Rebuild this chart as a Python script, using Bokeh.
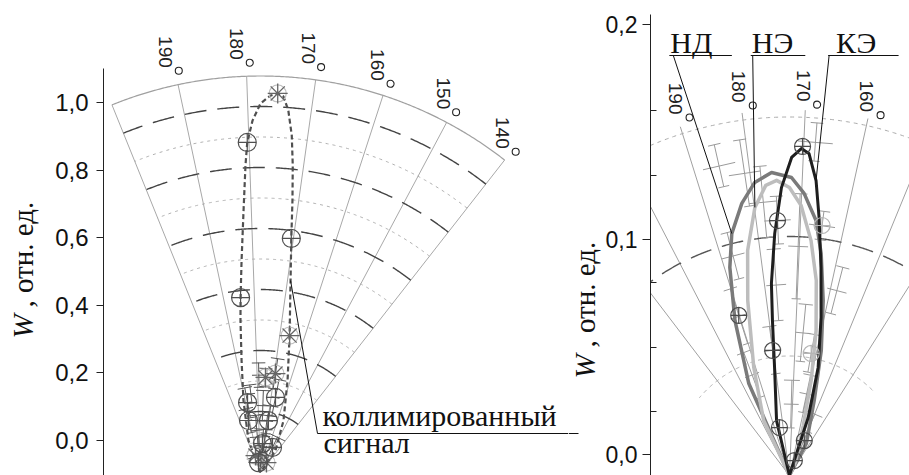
import numpy as np
from math import pi
from bokeh.plotting import figure
from bokeh.layouts import row
from bokeh.models import FixedTicker, CustomJSTickFormatter, Range1d
from bokeh.core.properties import value
from bokeh.embed import file_html
from bokeh.resources import INLINE

# ================= LEFT PANEL DATA (collimated signal) =================
left_grid_angles = [140, 150, 160, 170, 180, 190, 200]
left_label_angles = [190, 180, 170, 160, 150, 140]
left_label_text = ["190", "180", "170", "160", "150", "140"]
left_dashed_r = [0.2, 0.4, 0.6, 0.8, 1.0, 1.2]
left_dotted_r = [0.1, 0.3, 0.5, 0.7, 0.9, 1.1]
left_outer_r = 1.3
left_yticks = [0.0, 0.2, 0.4, 0.6, 0.8, 1.0]

coll_theta = [200.0, 198.6, 191.3, 187.6, 185.5, 184.5, 183.1, 181.7, 180.8, 180.3, 179.3,
              178.0, 176.5, 175.4, 174.5, 173.6, 172.7, 172.0, 171.3, 170.5, 169.1, 166.0,
              161.6, 154.1, 143.7, 140.0]
coll_r = [0.0, 0.112, 0.243, 0.372, 0.503, 0.577, 0.698, 0.861, 1.008, 1.083, 1.154,
          1.210, 1.236, 1.244, 1.235, 1.190, 1.110, 1.012, 0.898, 0.774, 0.637, 0.459,
          0.314, 0.186, 0.087, 0.0]

coll_circ_theta = [180.3, 184.5, 170.5, 188.5, 166.7, 191.0, 169.3, 174.1, 152.4, 189.3]
coll_circ_r = [1.083, 0.577, 0.774, 0.233, 0.251, 0.175, 0.172, 0.095, 0.091, 0.033]
coll_star_theta = [175.4, 166.0, 175.0, 169.4, 194.4, 147.0]
coll_star_r = [1.244, 0.459, 0.312, 0.328, 0.058, 0.038]

le_theta = [188.5, 166.7, 191.0, 169.3, 174.1, 152.4, 189.3, 175.0, 169.4, 179.0, 183.0, 171.0,
            178.0, 185.0, 176.0, 181.0, 165.0]
le_r = [0.233, 0.251, 0.175, 0.172, 0.095, 0.091, 0.033, 0.312, 0.328, 0.320, 0.140, 0.130,
        0.050, 0.260, 0.220, 0.080, 0.060]
le_dr = [0.05, 0.06, 0.04, 0.05, 0.05, 0.04, 0.03, 0.03, 0.05, 0.04, 0.05, 0.06, 0.04, 0.03,
         0.05, 0.04, 0.03]
le_dth = [3, 3, 4, 5, 6, 8, 15, 4, 3, 4, 8, 7, 20, 3, 5, 10, 12]

# ================= RIGHT PANEL DATA (НД, НЭ, КЭ) =================
right_grid_angles = [140, 150, 160, 170, 180, 190, 200, 210]
right_label_angles = [190, 180, 170, 160]
right_label_text = ["190", "180", "170", "160"]
right_dashed_r = [0.1]
right_dotted_r = [0.05, 0.15]
right_line_r = 0.153
right_yticks = [0.0, 0.1, 0.2]
right_minor = [0.02, 0.05, 0.08, 0.13, 0.16]

nd_theta = [205.0, 196.5, 192.0, 188.6, 186.0, 182.5, 179.3, 175.9, 172.1, 169.5, 166.5,
            164.3, 161.5, 158.1, 154.1, 144.5, 140.0]
nd_r = [0.0, 0.0421, 0.0688, 0.0906, 0.1041, 0.1156, 0.1235, 0.1270, 0.1247, 0.1182, 0.1073,
        0.0938, 0.0746, 0.0540, 0.0331, 0.0152, 0.0]
ne_theta = [205.0, 197.8, 190.9, 186.0, 183.1, 179.9, 177.2, 175.0, 172.5, 170.0, 167.2,
            164.6, 162.0, 159.5, 156.9, 147.7, 140.0]
ne_r = [0.0, 0.0254, 0.0476, 0.0753, 0.0958, 0.1131, 0.1218, 0.1236, 0.1205, 0.1131, 0.0987,
        0.0824, 0.0617, 0.0408, 0.0217, 0.0060, 0.0]
ke_theta = [200.0, 185.8, 180.4, 178.8, 177.9, 176.0, 174.1, 172.1, 170.4, 169.0, 167.3,
            165.9, 163.8, 161.1, 157.5, 154.4, 145.0]
ke_r = [0.0, 0.0236, 0.0456, 0.0652, 0.0807, 0.1015, 0.1205, 0.1331, 0.1369, 0.1350, 0.1239,
        0.1087, 0.0880, 0.0675, 0.0468, 0.0255, 0.0]

rm_theta = [170.2, 175.2, 190.2, 180.2, 184.3, 149.3, 154.1]
rm_r = [0.1378, 0.1068, 0.0703, 0.0528, 0.0205, 0.0159, 0.0066]
rm_light_theta = [165.0, 162.3]
rm_light_r = [0.1055, 0.0519]

re_theta = [185.4, 181.0, 170.3, 190.2, 175.2, 165.0, 162.3, 180.2, 168.0, 176.5, 158.0, 187.0,
            171.0, 160.5, 178.0, 150.0, 193.0, 167.0]
re_r = [0.133, 0.128, 0.096, 0.070, 0.107, 0.1055, 0.052, 0.053, 0.140, 0.080, 0.080, 0.095,
        0.030, 0.035, 0.115, 0.020, 0.045, 0.060]
re_dr = [0.009, 0.014, 0.022, 0.012, 0.010, 0.006, 0.008, 0.010, 0.008, 0.015, 0.010, 0.010,
         0.010, 0.008, 0.015, 0.008, 0.010, 0.012]
re_dth = [3, 3, 2.5, 3, 3, 3, 4, 4, 3, 3, 3, 3, 6, 5, 3, 6, 4, 3]

# ================= geometry (layout) =================
PXL = 338.0
L_X0, L_X1 = (103 - 260) / PXL, (568 - 260) / PXL
L_Y0, L_Y1 = -(475 - 440) / PXL, 440 / PXL
L_APEX = -(472 - 440) / PXL
KL = 305 / PXL
VL = 178.0

PXR = 2150.0
R_X0, R_X1 = (648 - 788) / PXR, (909 - 788) / PXR
R_Y0, R_Y1 = -(475 - 454) / PXR, 454 / PXR
R_APEX = R_Y0
KR = 2390 / PXR
VR = 172.5

TXT_MID = 10  # px from text middle to alphabetic baseline (30px serif)

SERIF = "Liberation Serif"
SANS = "Liberation Sans"


def lx(px):
    return (px - 260) / PXL


def ly(py):
    return (440 - py) / PXL


def rx(px):
    return (px - 788) / PXR


def ry(py):
    return (454 - py) / PXR


def pol(theta, r, vert, k, y0):
    t = np.radians(vert - np.asarray(theta, dtype=float))
    rr = np.asarray(r, dtype=float) * k
    return rr * np.sin(t), y0 + rr * np.cos(t)


def err_segs(theta, r, dr, dth, vert, k, y0, pxs, cap_px):
    xs, ys = [], []
    for t, rr, d, a in zip(theta, r, dr, dth):
        lo = max(rr - d, 0.0)
        hi = rr + d
        cap = np.degrees(cap_px / (max(rr, 0.02) * pxs))
        segs = [([t, t], [lo, hi]), ([t - a, t + a], [rr, rr]),
                ([t - cap, t + cap], [lo, lo]), ([t - cap, t + cap], [hi, hi])]
        for st, sr in segs:
            x, y = pol(st, sr, vert, k, y0)
            xs.append(list(x))
            ys.append(list(y))
    return xs, ys


def fmt():
    return CustomJSTickFormatter(code="return tick.toFixed(1).replace('.', ',');")


def strip(w, x0):
    s = figure(width=w, height=475, x_range=Range1d(x0, x0 + w), y_range=Range1d(0, 475),
               x_axis_location=None, y_axis_location=None, toolbar_location=None,
               output_backend="svg", min_border=0)
    s.grid.visible = False
    s.outline_line_color = None
    return s


def axis_title(s, xc, py_start):
    s.text(x=[xc], y=[475 - py_start], text=["W"], angle=pi / 2, text_font=value(SERIF),
           text_font_style="italic", text_font_size=value("29px"), text_align="left",
           text_baseline="middle", text_color="#111")
    s.text(x=[xc], y=[475 - py_start + 31], text=[", отн. ед."], angle=pi / 2,
           text_font=value(SERIF), text_font_size=value("29px"), text_align="left",
           text_baseline="middle", text_color="#111")


# ================= LEFT TITLE STRIP =================
s1 = strip(45, 0)
axis_title(s1, 22, 338)

# ================= LEFT FIGURE =================
p1 = figure(width=523, height=475, x_range=Range1d(L_X0, L_X1), y_range=Range1d(L_Y0, L_Y1),
            x_axis_location=None, toolbar_location=None, output_backend="svg",
            min_border_left=58, min_border_right=0, min_border_top=0, min_border_bottom=0)
p1.grid.visible = False
p1.outline_line_color = None
ya = p1.yaxis[0]
ya.ticker = FixedTicker(ticks=left_yticks, minor_ticks=[])
ya.formatter = fmt()
ya.bounds = (L_Y0, (440 - 68) / PXL)
ya.major_label_text_font = SANS
ya.major_label_text_font_size = "24px"
ya.major_label_text_color = "#111"
ya.major_tick_out = 7
ya.major_tick_in = 0
ya.major_label_standoff = 8
ya.axis_line_color = "#222"
ya.major_tick_line_color = "#222"

arc_l = np.linspace(140, 200, 241)
xs, ys = [], []
for a in left_grid_angles:
    x, y = pol([a, a], [0, left_outer_r], VL, KL, L_APEX)
    xs.append(list(x)); ys.append(list(y))
p1.multi_line(xs, ys, line_color="#a8a8a8", line_width=1)
x, y = pol(arc_l, np.full_like(arc_l, left_outer_r), VL, KL, L_APEX)
p1.line(x, y, line_color="#a0a0a0", line_width=1.2)
xs, ys = [], []
for rr in left_dotted_r:
    x, y = pol(arc_l, np.full_like(arc_l, rr), VL, KL, L_APEX)
    xs.append(list(x)); ys.append(list(y))
p1.multi_line(xs, ys, line_color="#b0b0b0", line_width=1, line_dash="3 4")
xs, ys = [], []
for rr in left_dashed_r:
    x, y = pol(arc_l, np.full_like(arc_l, rr), VL, KL, L_APEX)
    xs.append(list(x)); ys.append(list(y))
p1.multi_line(xs, ys, line_color="#444", line_width=1.4, line_dash="22 11")

cx, cy = pol(np.array(left_label_angles) - 0.5, np.full(len(left_label_angles), 1.344), VL, KL, L_APEX)
p1.text(x=cx - 13 / PXL, y=cy + 3 / PXL, text=left_label_text, angle=-pi / 2,
        text_font=value(SANS), text_font_size=value("19px"), text_align="right",
        text_baseline="middle", text_color="#222")
p1.scatter(cx, cy, marker="circle", size=7, fill_color="white", line_color="#222", line_width=1.1)

xs, ys = err_segs(le_theta, le_r, le_dr, le_dth, VL, KL, L_APEX, 305, 6)
p1.multi_line(xs, ys, line_color="#555", line_width=1)

x, y = pol(coll_theta, coll_r, VL, KL, L_APEX)
p1.line(x, y, line_color="#505050", line_width=2.2, line_dash="5 3")
colx, coly = x, y

x, y = pol(coll_star_theta, coll_star_r, VL, KL, L_APEX)
p1.scatter(x, y, marker="circle", size=17, fill_alpha=0, line_color="#c0c0c0", line_width=1.2)
p1.scatter(x, y, marker="asterisk", size=20, line_color="#666", line_width=1.3)
x, y = pol(coll_circ_theta, coll_circ_r, VL, KL, L_APEX)
p1.scatter(x, y, marker="circle_cross", size=18, fill_alpha=0, line_color="#505050", line_width=1.2)

ci = 20
p1.line([colx[ci], lx(317), lx(578)], [coly[ci], ly(433), ly(433)], line_color="#111", line_width=1)
p1.text(x=[lx(322), lx(323)], y=[ly(425 - TXT_MID), ly(452 - TXT_MID)],
        text=["коллимированный", "сигнал"], text_font=value(SERIF),
        text_font_size=value("30px"), text_align="left", text_baseline="middle",
        text_color="#111")

# ================= RIGHT TITLE STRIP =================
s2 = strip(34, 568)
s2.line([568, 578], [475 - 433, 475 - 433], line_color="#111", line_width=1)
axis_title(s2, 584, 378)

# ================= RIGHT FIGURE =================
p2 = figure(width=307, height=475, x_range=Range1d(R_X0, R_X1), y_range=Range1d(R_Y0, R_Y1),
            x_axis_location=None, toolbar_location=None, output_backend="svg",
            min_border_left=46, min_border_right=0, min_border_top=0, min_border_bottom=0)
p2.grid.visible = False
p2.outline_line_color = None
yb = p2.yaxis[0]
yb.ticker = FixedTicker(ticks=right_yticks, minor_ticks=right_minor)
yb.formatter = fmt()
yb.bounds = (R_Y0, (454 - 14) / PXR)
yb.major_label_text_font = SANS
yb.major_label_text_font_size = "23px"
yb.major_label_text_color = "#111"
yb.major_tick_out = 8
yb.major_tick_in = 0
yb.minor_tick_out = 0
yb.minor_tick_in = 6
yb.major_label_standoff = 5
yb.axis_line_color = "#222"
yb.major_tick_line_color = "#222"
yb.minor_tick_line_color = "#222"

arc_r = np.linspace(128, 222, 377)
xs, ys = [], []
for a in right_grid_angles:
    x, y = pol([a, a], [0, right_line_r], VR, KR, R_APEX)
    xs.append(list(x)); ys.append(list(y))
p2.multi_line(xs, ys, line_color="#a0a0a0", line_width=1)
xs, ys = [], []
for rr in right_dotted_r:
    x, y = pol(arc_r, np.full_like(arc_r, rr), VR, KR, R_APEX)
    xs.append(list(x)); ys.append(list(y))
p2.multi_line(xs, ys, line_color="#aaaaaa", line_width=1, line_dash="4 4")
xs, ys = [], []
for rr in right_dashed_r:
    x, y = pol(arc_r, np.full_like(arc_r, rr), VR, KR, R_APEX)
    xs.append(list(x)); ys.append(list(y))
p2.multi_line(xs, ys, line_color="#555", line_width=1.4, line_dash="22 11")

cx, cy = pol(np.array(right_label_angles) - 1.8, np.full(len(right_label_angles), 0.1556), VR, KR, R_APEX)
p2.text(x=cx - 14 / PXR, y=cy + 3 / PXR, text=right_label_text, angle=-pi / 2,
        text_font=value(SANS), text_font_size=value("19px"), text_align="right",
        text_baseline="middle", text_color="#222")
p2.scatter(cx, cy, marker="circle", size=7, fill_color="white", line_color="#222", line_width=1.1)

xs, ys = err_segs(re_theta, re_r, re_dr, re_dth, VR, KR, R_APEX, 2390, 6)
p2.multi_line(xs, ys, line_color="#9a9a9a", line_width=1)

x, y = pol(nd_theta, nd_r, VR, KR, R_APEX)
p2.line(x, y, line_color="#7a7a7a", line_width=3.5, line_join="round")
ndx, ndy = x, y
x, y = pol(ne_theta, ne_r, VR, KR, R_APEX)
p2.line(x, y, line_color="#bdbdbd", line_width=3.5, line_join="round")
nex, ney = x, y
x, y = pol(ke_theta, ke_r, VR, KR, R_APEX)
p2.line(x, y, line_color="#1e1e1e", line_width=3, line_join="round")
kex, key = x, y

x, y = pol(rm_light_theta, rm_light_r, VR, KR, R_APEX)
p2.scatter(x, y, marker="circle_cross", size=16, fill_alpha=0, line_color="#b5b5b5", line_width=1.2)
x, y = pol(rm_theta, rm_r, VR, KR, R_APEX)
p2.scatter(x, y, marker="circle_cross", size=16, fill_alpha=0, line_color="#4a4a4a", line_width=1.2)

for (tx, u0, u1, lead_x, px_, py_, lab) in [
        (668, 667, 730, 671, ndx[4], ndy[4], "НД"),
        (750, 749, 804, 751, nex[5], ney[5], "НЭ"),
        (835, 827, 898, 828, kex[10], key[10], "КЭ")]:
    p2.line([rx(u0), rx(u1)], [ry(55), ry(55)], line_color="#111", line_width=1)
    p2.line([rx(lead_x), px_], [ry(55), py_], line_color="#111", line_width=1)
    p2.text(x=[rx(tx)], y=[ry(52 - TXT_MID)], text=[lab], text_font=value(SERIF),
            text_font_size=value("30px"), text_align="left", text_baseline="middle",
            text_color="#111")

layout = row(s1, p1, s2, p2)
open("out.html", "w").write(file_html(layout, INLINE))
